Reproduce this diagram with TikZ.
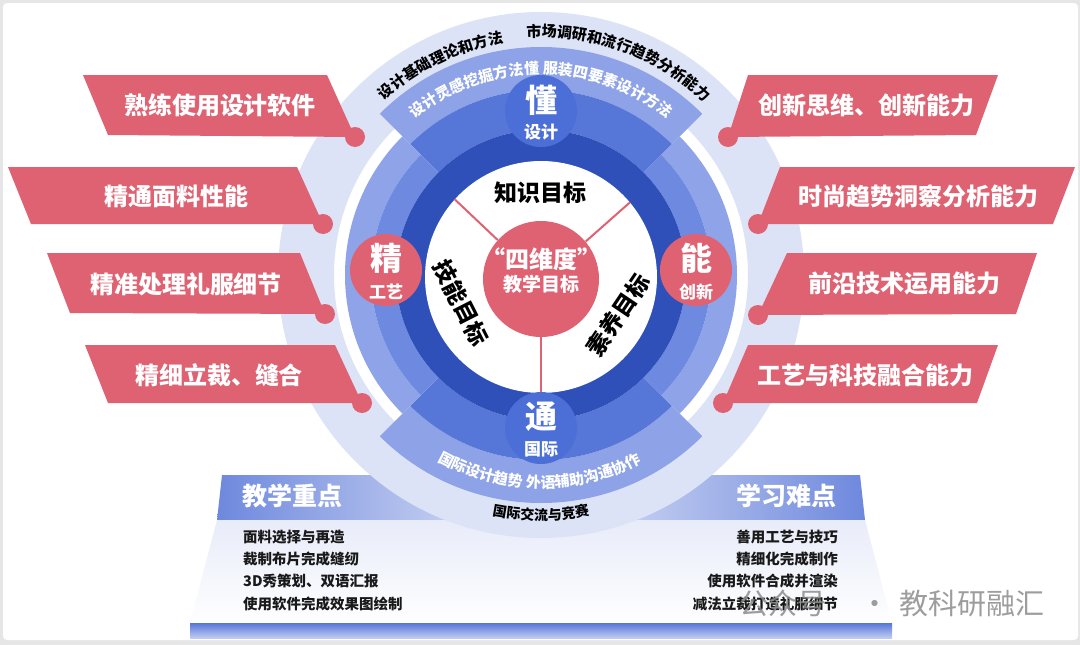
\documentclass[tikz,border=0pt]{standalone}
\usepackage{fontspec}
\setmainfont{Noto Sans CJK SC}
\usetikzlibrary{decorations.text}

\definecolor{rosered}{HTML}{DF6272}
\definecolor{darkring}{HTML}{2F50B9}
\definecolor{midband}{HTML}{5677D8}
\definecolor{lightband}{HTML}{8DA2E7}
\definecolor{sideinner}{HTML}{6E8AE0}
\definecolor{sideouter}{HTML}{8FA4E8}
\definecolor{badgeblue}{HTML}{4B6FD6}
\definecolor{lavender}{HTML}{DDE3F6}
\definecolor{framegray}{HTML}{E6E6E6}
\definecolor{headblue}{HTML}{6E88DD}
\definecolor{headlight}{HTML}{E2E7F8}
\definecolor{bodytop}{HTML}{E8ECF9}

\newcommand{\fsz}[1]{\fontsize{#1}{#1}\selectfont}
\newcommand{\arcfont}{\bfseries\fontsize{15}{15}\selectfont}
\newcommand{\arcfontsm}{\bfseries\fontsize{14}{14}\selectfont}

\begin{document}
\begin{tikzpicture}[x=1pt, y=1pt,
    ribbon/.style={fill=rosered},
    ribbontext/.style={text=white, font=\bfseries\fsz{24}, inner sep=0pt},
    dot/.style={circle, fill=rosered, minimum size=20pt, inner sep=0pt},
    badge/.style={circle, minimum size=72pt, inner sep=0pt},
    bigchar/.style={text=white, font=\bfseries\fsz{32}, inner sep=0pt},
    smallchar/.style={text=white, font=\bfseries\fsz{17}, inner sep=0pt},
    goal/.style={font=\bfseries\fsz{23}, inner sep=0pt},
    headtext/.style={text=white, font=\bfseries\fsz{25}, inner sep=0pt},
    listtext/.style={text=black!90, font=\bfseries\fsz{14.5}, inner sep=0pt}]
    \useasboundingbox (0,0) rectangle (1080,-645);
    \fill[framegray] (0,0) rectangle (1080,-645);
    \fill[white, rounded corners=4pt] (3,-3) rectangle (1078,-640);

    % bottom panel
    \shade[left color=headblue, right color=headblue, middle color=headlight]
        (222,-475) -- (860,-475) -- (865,-520) -- (217,-520) -- cycle;
    \shade[top color=bodytop, bottom color=white!97!bodytop]
        (217,-520) -- (865,-520) -- (892,-623) -- (190,-623) -- cycle;
    \shade[top color=midband, bottom color=lightband!55] (190,-623) rectangle (892,-638);
    \node[headtext] (keypts) at (292,-496) {教学重点};
    \node[headtext] (hardpts) at (786,-496) {学习难点};
    \node[listtext, anchor=west] (k1) at (243,-537) {面料选择与再造};
    \node[listtext, anchor=west] (k2) at (243,-559) {裁制布片完成缝纫};
    \node[listtext, anchor=west] (k3) at (243,-581) {3D秀策划、双语汇报};
    \node[listtext, anchor=west] (k4) at (243,-604) {使用软件完成效果图绘制};
    \node[listtext, anchor=east] (h1) at (838,-537) {善用工艺与技巧};
    \node[listtext, anchor=east] (h2) at (838,-559) {精细化完成制作};
    \node[listtext, anchor=east] (h3) at (838,-581) {使用软件合成并渲染};
    \node[listtext, anchor=east] (h4) at (838,-604) {减法立裁打造礼服细节};

    % rings
    \begin{scope}[shift={(541,-275)}]
        \fill[lavender, even odd rule] (0,0) circle[radius=263pt] (0,0) circle[radius=207pt];
        \foreach \a in {45,225} {
            \fill[lightband] (\a:228pt) arc[start angle=\a, end angle=\a+90, radius=228pt]
                -- (\a+90:185pt) arc[start angle=\a+90, end angle=\a, radius=185pt] -- cycle;
            \fill[midband] (\a:185pt) arc[start angle=\a, end angle=\a+90, radius=185pt]
                -- (\a+90:145pt) arc[start angle=\a+90, end angle=\a, radius=145pt] -- cycle;
        }
        \foreach \a in {-45,135} {
            \fill[sideouter] (\a:196pt) arc[start angle=\a, end angle=\a+90, radius=196pt]
                -- (\a+90:170pt) arc[start angle=\a+90, end angle=\a, radius=170pt] -- cycle;
            \fill[sideinner] (\a:170pt) arc[start angle=\a, end angle=\a+90, radius=170pt]
                -- (\a+90:145pt) arc[start angle=\a+90, end angle=\a, radius=145pt] -- cycle;
        }
        \fill[darkring] (0,0) circle[radius=145pt];
    \end{scope}

    \node[circle, fill=white, minimum size=232pt, inner sep=0pt] (inner) at (541,-277) {};
    \node[circle, fill=rosered, minimum size=116pt, inner sep=0pt] (core) at (541,-279) {};
    \draw[rosered, line width=2pt] (core.138) -- (inner.138);
    \draw[rosered, line width=2pt] (core.40) -- (inner.40);
    \draw[rosered, line width=2pt] (core.270) -- (inner.270);
    \node[text=white, font=\bfseries\fsz{24}, inner sep=0pt] (coretitle) at (541,-259) {“四维度”};
    \node[text=white, font=\bfseries\fsz{19}, inner sep=0pt] (coresub) at (541,-284) {教学目标};
    \node[goal] (knowledge) at (540,-193) {知识目标};
    \node[goal, rotate=-63] (skill) at (461,-303) {技能目标};
    \node[goal, rotate=56] (quality) at (618,-315) {素养目标};

    % four badges
    \node[badge, fill=badgeblue] (dong) at (541,-111) {};
    \node[badge, fill=badgeblue] (tong) at (541,-428) {};
    \node[badge, fill=rosered] (jing) at (386,-270) {};
    \node[badge, fill=rosered] (neng) at (696,-270) {};
    \node[bigchar] at (541,-100) {懂};
    \node[smallchar] at (541,-132) {设计};
    \node[bigchar] at (541,-417) {通};
    \node[smallchar] at (541,-449) {国际};
    \node[bigchar] at (386,-258) {精};
    \node[smallchar] at (386,-292) {工艺};
    \node[bigchar] at (696,-258) {能};
    \node[smallchar] at (696,-292) {创新};

    % texts along the rings
    \begin{scope}[shift={(541,-275)}]
        \path[decorate, decoration={text along path, text align=center, text color=black,
            text={|\arcfont|设计基础理论和方法}}]
            (135:235pt) arc[start angle=135, end angle=96, radius=235pt];
        \path[decorate, decoration={text along path, text align=center, text color=black,
            text={|\arcfont|市场调研和流行趋势分析能力}}]
            (97:238pt) arc[start angle=97, end angle=43, radius=238pt];
        \path[decorate, decoration={text along path, text align=center, text color=white,
            text={|\arcfont|设计灵感挖掘方法懂 服装四要素设计方法}}]
            (136:201pt) arc[start angle=136, end angle=44, radius=201pt];
        \path[decorate, decoration={text along path, text align=center, text color=white,
            text={|\arcfont|国际设计趋势 外语辅助沟通协作}}]
            (234:213pt) arc[start angle=234, end angle=305, radius=213pt];
        \path[decorate, decoration={text along path, text align=center, text color=black,
            text={|\arcfontsm|国际交流与竞赛}}]
            (250:245pt) arc[start angle=250, end angle=290, radius=245pt];
    \end{scope}

    % left ribbons
    \node[dot] (l1) at (355,-137) {};
    \node[dot] (l2) at (323,-224) {};
    \node[dot] (l3) at (325,-314) {};
    \node[dot] (l4) at (362,-403) {};
    \fill[ribbon] (83,-75) -- (327,-75) -- (l1.center) -- (108,-135) -- cycle;
    \fill[ribbon] (8,-167) -- (297,-167) -- (l2.center) -- (31,-224) -- cycle;
    \fill[ribbon] (47,-253) -- (300,-253) -- (l3.center) -- (70,-313) -- cycle;
    \fill[ribbon] (85,-345) -- (335,-345) -- (l4.center) -- (108,-403) -- cycle;
    \node[ribbontext] (skill1) at (220,-105) {熟练使用设计软件};
    \node[ribbontext] (skill2) at (176,-196) {精通面料性能};
    \node[ribbontext] (skill3) at (186,-284) {精准处理礼服细节};
    \node[ribbontext] (skill4) at (219,-375) {精细立裁、缝合};

    % right ribbons
    \node[dot] (r1) at (728,-137) {};
    \node[dot] (r2) at (758,-224) {};
    \node[dot] (r3) at (758,-315) {};
    \node[dot] (r4) at (723,-403) {};
    \fill[ribbon] (748,-75) -- (998,-75) -- (976,-135) -- (r1.center) -- cycle;
    \fill[ribbon] (780,-167) -- (1075,-167) -- (1053,-224) -- (r2.center) -- cycle;
    \fill[ribbon] (787,-253) -- (1037,-253) -- (1016,-314) -- (r3.center) -- cycle;
    \fill[ribbon] (748,-345) -- (998,-345) -- (977,-403) -- (r4.center) -- cycle;
    \node[ribbontext] (ability1) at (866,-105) {创新思维、创新能力};
    \node[ribbontext] (ability2) at (918,-196) {时尚趋势洞察分析能力};
    \node[ribbontext] (ability3) at (904,-284) {前沿技术运用能力};
    \node[ribbontext] (ability4) at (865,-375) {工艺与科技融合能力};

    \node[anchor=east, text=black!45, font=\fsz{29}, inner sep=0pt, opacity=0.85] (mark) at (1045,-603)
        {公众号\hspace{34pt}·\hspace{10pt}教科研融汇};
\end{tikzpicture}
\end{document}
